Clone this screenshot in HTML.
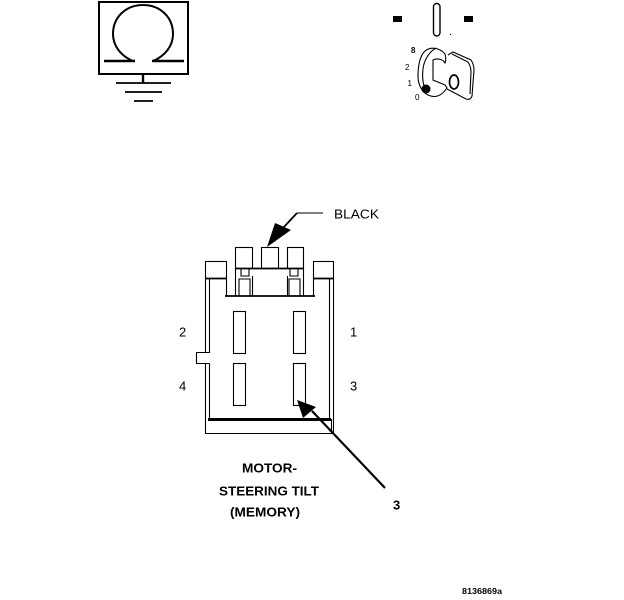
<!DOCTYPE html>
<html>
<head>
<meta charset="utf-8">
<style>
html,body{margin:0;padding:0;background:#fff}
svg{display:block}
text{font-family:"Liberation Sans",sans-serif;fill:#000}
</style>
</head>
<body>
<svg width="624" height="600" viewBox="0 0 624 600" xmlns="http://www.w3.org/2000/svg">
<rect width="624" height="600" fill="#fff"/>
<g fill="none" stroke="#000">
<rect x="99" y="2" width="89" height="72" stroke-width="2"/>
<path d="M133 61 C121 56 113 46 113 34 C113 17 126 5 143 5 C160 5 173 17 173 34 C173 46 165 56 153 61" stroke-width="2"/>
<path d="M104 61H135M152 61H184" stroke-width="2.6"/>
<path d="M143 74V83" stroke-width="2.4"/>
<path d="M116 83H171M125 92H162M134 101H153" stroke-width="1.8"/>
</g>
<rect x="393" y="16" width="9" height="6" fill="#000"/>
<rect x="464" y="16" width="9" height="6" fill="#000"/>
<rect x="433.500" y="3.500" width="6.500" height="32.500" rx="3.200" fill="none" stroke="#000" stroke-width="1.400"/>
<rect x="450" y="34" width="1" height="1" fill="#000"/>
<g fill="none" stroke="#000" stroke-width="1.100">
<path d="M445 54 C440 48 431 46 425 51 C419 57 418 68 418 76 C418 85 422 92 428 95 C434 98 441 97 447 88 L445 85 L433 80 L433 60 C437 58 443 59 445 63 C446 60 446 57 445 54Z"/>
<path d="M436 48 C429 52 424 60 423 69 C422 78 423 85 426 90"/>
<path d="M448 55 L453 52 L471 60 C473 63 474 66 474 70 L472 96 C471 99 469 100 466 99 L447 89"/>
<path d="M452 54 L468 62 C470 65 471 68 471 72 L470 94"/>
<ellipse cx="454" cy="82" rx="4.500" ry="7" stroke-width="1.700"/>
</g>
<circle cx="426" cy="89" r="4.500" fill="#000"/>
<text x="411" y="53" font-size="8" font-weight="bold">8</text>
<text x="405" y="70" font-size="8">2</text>
<text x="407.500" y="86" font-size="8">1</text>
<text x="415" y="100" font-size="8">0</text>

<g fill="none" stroke="#000" stroke-width="1.100">
<rect x="235.500" y="247.500" width="17" height="21"/>
<rect x="261.500" y="247.500" width="17" height="21"/>
<rect x="287.500" y="247.500" width="16" height="21"/>
<rect x="205.500" y="261.500" width="21" height="17"/>
<rect x="313.500" y="261.500" width="20" height="17"/>
<path d="M235.500 268V296M239 296V279H250V296M241 268V276H249V268M252.500 276V296"/>
<path d="M303.500 268V296M300 296V279H289V296M298 268V276H290V268M287.500 276V296"/>
<path d="M226.500 278V296M313.500 278V296"/>
<path d="M205.500 278V352.500H196.500V363.500H205.500V433.500H331.500V419M209.500 278V352.500H205.500M209.500 363.500V419M209.500 363.500H205.500"/>
<path d="M333.500 278V433.500H331M329.500 278V419"/>
<rect x="233.500" y="311.500" width="12" height="42"/>
<rect x="293.500" y="311.500" width="12" height="42"/>
<rect x="233.500" y="363.500" width="12" height="42"/>
<rect x="293.500" y="363.500" width="12" height="42"/>
<path d="M297 213H323"/>
</g>
<g stroke="#000" fill="none">
<path d="M235 268.500H303M205 278.500H226M313 278.500H333" stroke-width="1.800"/>
<path d="M225 296H315" stroke-width="1.800"/>
<path d="M208 419.500H331" stroke-width="3"/>
<path d="M297 213L283 228" stroke-width="1.800"/>
<path d="M385 488L312 411" stroke-width="2.200"/>
</g>
<path d="M267 247L275 223L291 230Z" fill="#000"/>
<path d="M297 400L316 407L303 418Z" fill="#000"/>

<text x="334" y="218.500" font-size="13" textLength="45" lengthAdjust="spacingAndGlyphs">BLACK</text>
<text x="179" y="336.500" font-size="13">2</text>
<text x="350" y="336.500" font-size="13">1</text>
<text x="179" y="390.500" font-size="13">4</text>
<text x="350" y="390.500" font-size="13">3</text>
<text x="393" y="509.500" font-size="13" font-weight="bold">3</text>
<text x="242" y="472.500" font-size="12.500" font-weight="bold" textLength="55" lengthAdjust="spacingAndGlyphs">MOTOR-</text>
<text x="219" y="495.500" font-size="12.500" font-weight="bold" textLength="100" lengthAdjust="spacingAndGlyphs">STEERING TILT</text>
<text x="230" y="516.500" font-size="12.500" font-weight="bold" textLength="70" lengthAdjust="spacingAndGlyphs">(MEMORY)</text>
<text x="462" y="594" font-size="8" font-weight="bold" textLength="40" lengthAdjust="spacingAndGlyphs">8136869a</text>
</svg>
</body>
</html>
